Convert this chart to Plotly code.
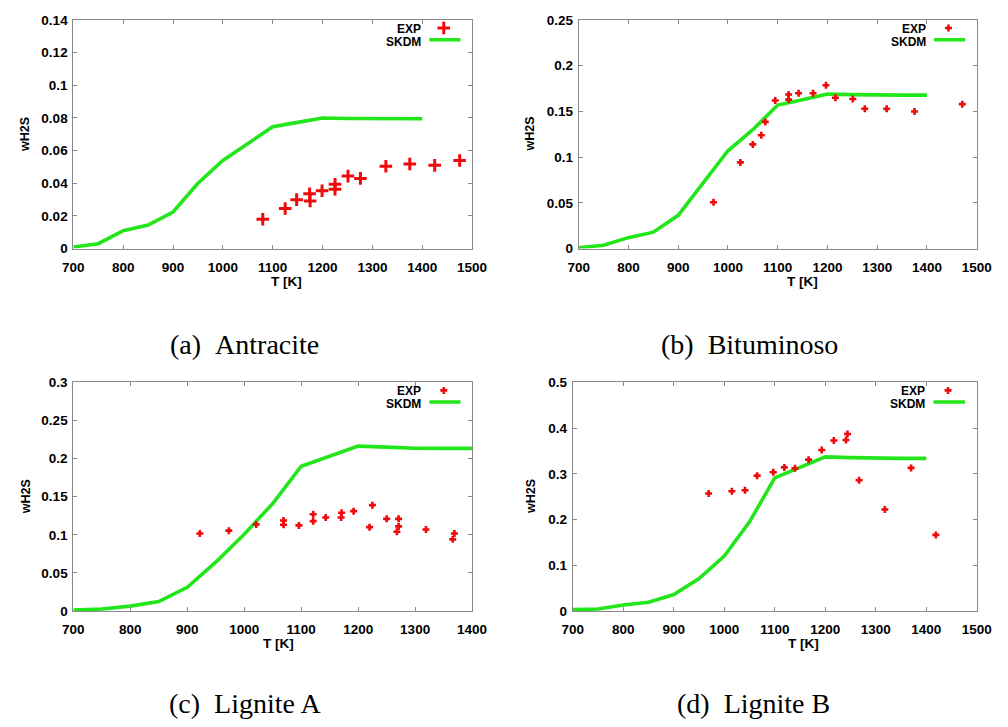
import plotly.graph_objects as go

# ---------------- data ----------------
# Model temperatures [K]
T_model = [700, 750, 800, 850, 900, 950, 1000, 1050, 1100, 1150, 1200, 1250, 1300, 1350, 1400]

# SKDM model predictions of wH2S
skdm_antracite = [0.001, 0.003, 0.011, 0.0144, 0.0224, 0.040, 0.054, 0.064, 0.0746, 0.0773, 0.080,
                  0.0797, 0.0795, 0.0795, 0.0795]
skdm_bituminoso = [0.001, 0.0036, 0.012, 0.018, 0.0364, 0.071, 0.107, 0.130, 0.157, 0.1628, 0.1690,
                   0.1684, 0.1679, 0.1679, 0.1679]
skdm_lignite_a = [0.0013, 0.0026, 0.0064, 0.0124, 0.031, 0.064, 0.1007, 0.141, 0.190, 0.2036, 0.2164,
                  0.2150, 0.2136, 0.2134, 0.2134]
skdm_lignite_b = [0.003, 0.0043, 0.013, 0.019, 0.036, 0.071, 0.120, 0.195, 0.291, 0.314, 0.337,
                  0.3355, 0.3337, 0.3337, 0.3337]

# Experimental points
T_exp_antracite = [1080, 1125, 1148, 1174, 1175, 1199, 1225, 1225, 1251, 1276, 1327, 1375, 1425, 1475]
w_exp_antracite = [0.018, 0.0246, 0.030, 0.0336, 0.0292, 0.0354, 0.0394, 0.0364, 0.0444, 0.043,
                   0.0504, 0.0518, 0.051, 0.054]

T_exp_bituminoso = [971, 1025, 1050, 1067, 1075, 1095, 1122, 1122, 1142, 1171, 1197, 1216, 1251, 1275,
                    1319, 1375, 1471]
w_exp_bituminoso = [0.0507, 0.0943, 0.114, 0.124, 0.1386, 0.162, 0.1686, 0.163, 0.170, 0.170, 0.1786,
                    0.165, 0.1636, 0.153, 0.153, 0.150, 0.158]

T_exp_lignite_a = [922, 973, 1021, 1069, 1069, 1096, 1121, 1121, 1143, 1171, 1170, 1192, 1220, 1225,
                   1250, 1271, 1271, 1268, 1319, 1369, 1366]
w_exp_lignite_a = [0.1016, 0.1054, 0.1136, 0.1187, 0.1131, 0.1123, 0.1269, 0.1179, 0.1226, 0.129,
                   0.1226, 0.131, 0.110, 0.1389, 0.1209, 0.1209, 0.111, 0.104, 0.107, 0.1016, 0.094]

T_exp_lignite_b = [969, 1015, 1041, 1065, 1097, 1119, 1140, 1167, 1193, 1217, 1241, 1244, 1267, 1318,
                   1370, 1419]
w_exp_lignite_b = [0.257, 0.262, 0.264, 0.296, 0.3036, 0.314, 0.312, 0.331, 0.352, 0.373, 0.374, 0.387,
                   0.286, 0.222, 0.313, 0.1664]

captions = ["(a)\u00a0\u00a0Antracite", "(b)\u00a0\u00a0Bituminoso", "(c)\u00a0\u00a0Lignite A", "(d)\u00a0\u00a0Lignite B"]
x_ranges = [[700, 1500], [700, 1500], [700, 1400], [700, 1500]]
y_ranges = [[0, 0.14], [0, 0.25], [0, 0.3], [0, 0.5]]
y_dticks = [0.02, 0.05, 0.05, 0.1]

# ---------------- layout geometry ----------------
W, H = 1008, 727
# panel boxes in pixels: left, right, top, bottom
boxes = [(64, 473.3, 13.3, 246.7), (582.7, 991.3, 13.3, 246.7),
         (64, 473.3, 383.3, 616.7), (576.7, 991.3, 383.3, 616.7)]
xtitle_pos = [(283, 280), (812.7, 280), (275, 650), (813, 650)]
ytitle_pos = [(15, 130), (533, 130), (15, 500), (533, 500)]
caption_pos = [(240, 345), (758, 345), (240, 711), (762, 711)]

RED = "#ee0a0a"
GREEN = "#22e61a"
AXIS_GRAY = "#8a8a8a"
SANS = "Liberation Sans, Arial, sans-serif"
SERIF = "Liberation Serif, Times New Roman, serif"

panels = [
    (skdm_antracite, T_exp_antracite, w_exp_antracite),
    (skdm_bituminoso, T_exp_bituminoso, w_exp_bituminoso),
    (skdm_lignite_a, T_exp_lignite_a, w_exp_lignite_a),
    (skdm_lignite_b, T_exp_lignite_b, w_exp_lignite_b),
]

fig = go.Figure()
layout = dict(width=W, height=H, margin=dict(l=0, r=0, t=0, b=0),
              paper_bgcolor="white", plot_bgcolor="white", showlegend=False)
annotations = []


def px2paper_x(px):
    return px / W


def px2paper_y(py):
    return 1 - py / H


for i, (skdm, t_exp, w_exp) in enumerate(panels):
    n = i + 1
    k = i + 5  # hidden key axes
    left, right, top, bottom = boxes[i]
    xd = [px2paper_x(left), px2paper_x(right)]
    yd = [px2paper_y(bottom), px2paper_y(top)]
    big = (i == 0)
    marker = dict(symbol="cross-thin", size=9 if big else 5, color=RED,
                  line=dict(color=RED, width=3 if big else 2.6))

    fig.add_trace(go.Scatter(x=T_model, y=skdm, mode="lines", line=dict(color=GREEN, width=3.6),
                             xaxis=f"x{n}", yaxis=f"y{n}", cliponaxis=False))
    fig.add_trace(go.Scatter(x=t_exp, y=w_exp, mode="markers", marker=marker,
                             xaxis=f"x{n}", yaxis=f"y{n}", cliponaxis=False))

    # key samples on a hidden unit-square axis pair
    fig.add_trace(go.Scatter(x=[0.929], y=[0.965], mode="markers", marker=marker,
                             xaxis=f"x{k}", yaxis=f"y{k}", cliponaxis=False))
    fig.add_trace(go.Scatter(x=[0.893, 0.971], y=[0.914, 0.914], mode="lines",
                             line=dict(color=GREEN, width=3.6),
                             xaxis=f"x{k}", yaxis=f"y{k}", cliponaxis=False))

    axis_common = dict(showline=True, linecolor=AXIS_GRAY, linewidth=1, mirror="ticks",
                       ticks="inside", ticklen=4, tickcolor=AXIS_GRAY, tickwidth=1,
                       showgrid=False, zeroline=False,
                       tickfont=dict(family=SANS, size=13.5, color="black", weight="bold"))
    layout[f"xaxis{n}"] = dict(domain=xd, anchor=f"y{n}", range=x_ranges[i], dtick=100,
                               tick0=700, ticklabelstandoff=6, **axis_common)
    layout[f"yaxis{n}"] = dict(domain=yd, anchor=f"x{n}", range=y_ranges[i], dtick=y_dticks[i],
                               tick0=0, ticklabelstandoff=2, **axis_common)
    layout[f"xaxis{k}"] = dict(overlaying=f"x{n}", range=[0, 1], visible=False)
    layout[f"yaxis{k}"] = dict(overlaying=f"y{n}", range=[0, 1], visible=False)

    # key labels
    key_x = px2paper_x(left + 0.877 * (right - left))
    for label, fy in (("EXP", 0.962), ("SKDM", 0.904)):
        annotations.append(dict(text=label, x=key_x, xref="paper", xanchor="right",
                                y=px2paper_y(bottom - fy * (bottom - top)), yref="paper",
                                yanchor="middle", showarrow=False,
                                font=dict(family=SANS, size=12, color="black", weight="bold")))

    # axis titles
    tx, ty = xtitle_pos[i]
    annotations.append(dict(text="T [K]", x=px2paper_x(tx), y=px2paper_y(ty), xref="paper",
                            yref="paper", xanchor="center", yanchor="middle", showarrow=False,
                            font=dict(family=SANS, size=13.5, color="black", weight="bold")))
    yx, yy = ytitle_pos[i]
    annotations.append(dict(text="wH2S", x=px2paper_x(yx), y=px2paper_y(yy), xref="paper",
                            yref="paper", xanchor="center", yanchor="middle", showarrow=False,
                            textangle=-90,
                            font=dict(family=SANS, size=12.5, color="black", weight="bold")))
    # caption
    cx, cy = caption_pos[i]
    annotations.append(dict(text=captions[i], x=px2paper_x(cx), y=px2paper_y(cy), xref="paper",
                            yref="paper", xanchor="center", yanchor="middle", showarrow=False,
                            font=dict(family=SERIF, size=28, color="black")))

layout["annotations"] = annotations
fig.update_layout(**layout)
fig.write_html("out.html")
